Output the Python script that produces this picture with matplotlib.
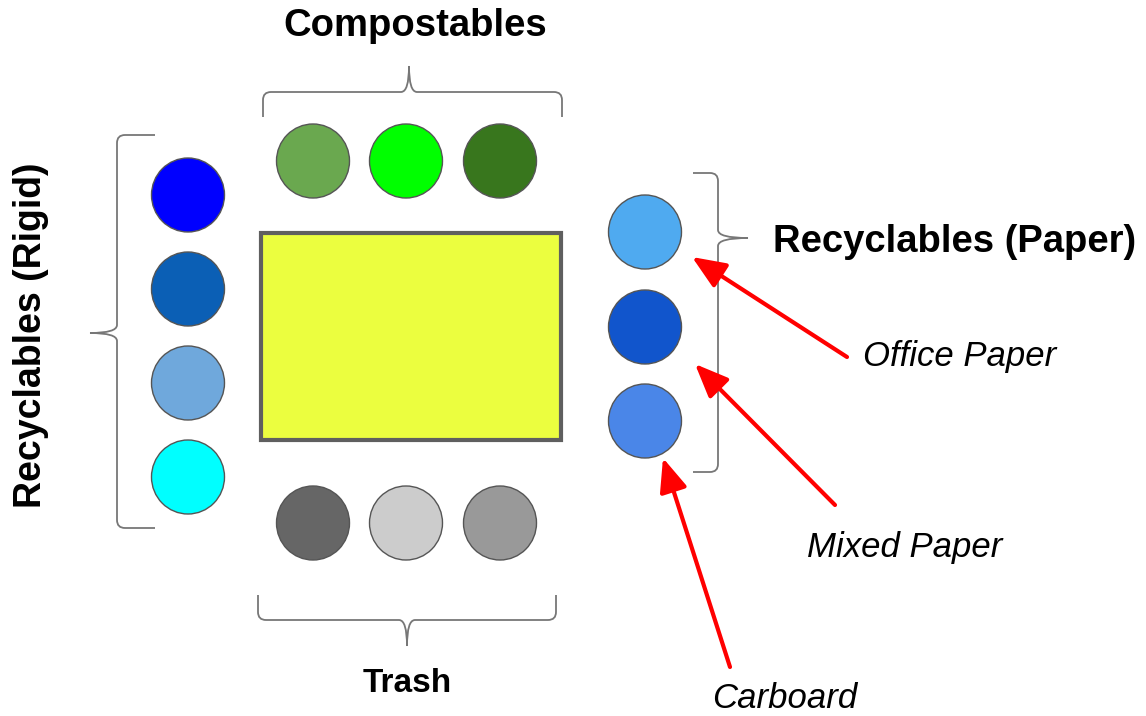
import numpy as np
import matplotlib.pyplot as plt
from matplotlib.patches import Ellipse, Rectangle, FancyArrowPatch, PathPatch
from matplotlib.path import Path

plt.rcParams['font.family'] = ['Liberation Sans', 'DejaVu Sans']

# bin groups and their colours
compost_colors = ['#6aa84f', '#00ff00', '#38761d']
rigid_colors = ['#0000ff', '#0b5fb5', '#6fa8dc', '#00ffff']
paper_colors = ['#4faaf0', '#1155cc', '#4a86e8']
trash_colors = ['#666666', '#cccccc', '#999999']

group_labels = ['Compostables', 'Recyclables (Rigid)', 'Recyclables (Paper)', 'Trash']
paper_labels = ['Office Paper', 'Mixed Paper', 'Carboard']


def brace(ax, a0, a1, tip, base, mid, point, vertical=False, r=8):
    # curly brace along one axis; base -> mid -> point runs toward the tip
    s = np.sign(point - base)
    verts = [(a0, base), (a0, mid - s * r), (a0, mid), (a0 + r, mid),
             (tip - r, mid), (tip, mid), (tip, point),
             (tip, mid), (tip + r, mid), (a1 - r, mid), (a1, mid), (a1, mid - s * r), (a1, base)]
    codes = [Path.MOVETO, Path.LINETO, Path.CURVE3, Path.CURVE3,
             Path.LINETO, Path.CURVE3, Path.CURVE3,
             Path.CURVE3, Path.CURVE3, Path.LINETO, Path.CURVE3, Path.CURVE3, Path.LINETO]
    if vertical:
        verts = [(b, a) for a, b in verts]
    ax.add_patch(PathPatch(Path(verts, codes), fill=False, edgecolor='#777777', lw=1.3))


fig = plt.figure(figsize=(11.46, 7.16), dpi=100)
ax = fig.add_axes([0, 0, 1, 1])
ax.set_xlim(0, 1146)
ax.set_ylim(716, 0)
ax.axis('off')

# central bin
ax.add_patch(Rectangle((261, 233), 300, 207, facecolor='#ebfe3f', edgecolor='#5f5f5f', lw=3))


def circles(xs, ys, colors):
    for x, y, c in zip(xs, ys, colors):
        ax.add_patch(Ellipse((x, y), 73, 74, facecolor=c, edgecolor='#555555', lw=1))


circles([313, 406, 500], [161] * 3, compost_colors)
circles([188] * 4, [195, 289, 383, 477], rigid_colors)
circles([645] * 3, [232, 327, 421], paper_colors)
circles([313, 406, 500], [523] * 3, trash_colors)

# braces
brace(ax, 263, 562, 409, 117, 92, 66)
brace(ax, 258, 556, 407, 595, 620, 646)
brace(ax, 135, 528, 333, 155, 117, 90, vertical=True)
brace(ax, 173, 472, 238, 693, 718, 748, vertical=True)

# group labels
ax.text(415, 36, group_labels[0], fontsize=27.5, fontweight='bold', ha='center', va='baseline')
ax.text(31, 335, group_labels[1], fontsize=27, fontweight='bold', ha='center', va='center', rotation=90)
ax.text(773, 252, group_labels[2], fontsize=27.5, fontweight='bold', ha='left', va='baseline')
ax.text(407, 692, group_labels[3], fontsize=24, fontweight='bold', ha='center', va='baseline')

# paper type annotations
tails = [(847, 357), (835, 505), (730, 667)]
tips = [(692, 257), (695, 364), (663, 458)]
text_pos = [(863, 366), (807, 557), (712, 708)]
for lab, t0, t1, tp in zip(paper_labels, tails, tips, text_pos):
    ax.add_patch(FancyArrowPatch(t0, t1, arrowstyle='-|>,head_length=12,head_width=5',
                                 color='#ff0000', lw=3, mutation_scale=1.7,
                                 shrinkA=0, shrinkB=0))
    ax.text(tp[0], tp[1], lab, fontsize=25, fontstyle='italic', ha='left', va='baseline')

fig.savefig('out.png', dpi=100, facecolor='white')
